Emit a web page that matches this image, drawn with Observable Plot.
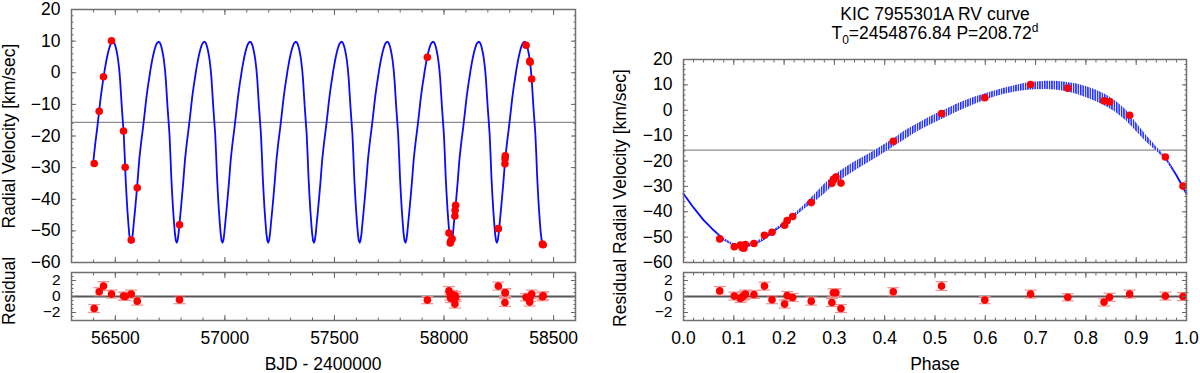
<!DOCTYPE html>
<html>
<head>
<meta charset="utf-8">
<script src="https://cdn.jsdelivr.net/npm/d3@7"></script>
<script src="https://cdn.jsdelivr.net/npm/@observablehq/plot@0.6"></script>
<style>
  body { margin: 0; background: #fff; }
  #chart { position: relative; width: 1200px; height: 373px; overflow: hidden; background: #fff;
           font-family: "Liberation Sans", Arial, Helvetica, sans-serif; color: #000; }
  .lbl { position: absolute; white-space: nowrap; font-size: 17.5px; line-height: 1; }
  .rot { transform: translate(-50%, -50%) rotate(-90deg); }
  .ctr { transform: translate(-50%, 0); text-align: center; }
  .title { line-height: 19.6px; }
  .sub { position: relative; top: 5px; font-size: 12px; line-height: 12px; }
  .sup { position: relative; top: -7px; font-size: 12px; line-height: 12px; }
</style>
</head>
<body>
<div id="chart"></div>
<script>
// ---------- data ----------
const periodDays = 208.72;
const gammaRV = -15.7;

// observations (BJD - 2400000, orbital phase, RV km/s, residual km/s, error km/s)
const obsBJD = [56403.6, 56426.5, 56446.0, 56482.6, 56537.4, 56545.1, 56572.6, 56600.0, 56793.0,
                57924.0, 58022.7, 58028.7, 58031.2, 58036.9, 58049.6, 58050.6, 58052.9, 58248.0,
                58277.9, 58278.6, 58279.6, 58374.5, 58391.0, 58393.0, 58400.0, 58449.1, 58452.5];
const obsPhase = [0.313, 0.417, 0.513, 0.690, 0.958, 0.993, 0.123, 0.254, 0.176,
                  0.599, 0.072, 0.101, 0.113, 0.140, 0.201, 0.206, 0.217, 0.161,
                  0.295, 0.298, 0.303, 0.764, 0.836, 0.847, 0.887, 0.117, 0.120];
const obsRV = [-28.7, -12.2, -1.3, 10.1, -18.4, -29.9, -52.9, -36.4, -48.1,
               4.9, -50.7, -53.8, -53.1, -52.5, -45.3, -43.5, -41.9, -49.3,
               -28.8, -27.2, -26.3, 8.7, 3.7, 3.3, -2.0, -54.2, -54.4];
const obsResidual = [-1.5, 0.6, 1.3, 0.3, 0.05, 0.0, 0.3, -0.58, -0.4,
                     -0.45, 0.7, 0.05, -0.25, 0.25, -0.95, 0.13, -0.12, 1.3,
                     -0.75, 0.46, 0.46, -0.1, -0.7, -0.1, 0.3, -0.04, 0.1];
const obsError = [0.5, 0.5, 0.55, 0.5, 0.5, 0.5, 0.5, 0.5, 0.5,
                  0.45, 0.55, 0.5, 0.5, 0.5, 0.5, 0.5, 0.5, 0.5,
                  0.5, 0.5, 0.5, 0.45, 0.5, 0.5, 0.5, 0.5, 0.5];

// orbital model curve read along phase, with half-width of the cycle-to-cycle band
const modelPhase = [0, 0.02, 0.04, 0.06, 0.08, 0.10, 0.12, 0.14, 0.16, 0.18, 0.20, 0.22, 0.24, 0.26, 0.28,
                    0.30, 0.32, 0.34, 0.36, 0.38, 0.40, 0.42, 0.44, 0.46, 0.48, 0.50, 0.52, 0.54, 0.56, 0.58,
                    0.60, 0.62, 0.64, 0.66, 0.68, 0.70, 0.72, 0.74, 0.76, 0.78, 0.80, 0.82, 0.84, 0.86, 0.88,
                    0.90, 0.92, 0.94, 0.96, 0.98, 1.00];
const modelRV = [-32.9, -38.4, -43.3, -47.3, -50.9, -53.1, -53.7, -52.9, -50.7, -47.6, -44.6, -41.5, -38.2, -34.9, -31.2,
                 -27.5, -24.8, -22.2, -19.9, -17.6, -15.1, -12.6, -9.9, -7.5, -5.3, -3.3, -1.5, 0.5, 2.2, 3.8,
                 5.2, 6.5, 7.6, 8.5, 9.2, 9.6, 9.8, 9.7, 9.2, 8.4, 7.2, 5.7, 3.8, 1.3, -2.0,
                 -6.6, -11.2, -15.2, -19.3, -25.6, -32.9];
const bandHalf = [0, 0, 0, 0, 0.2, 0.6, 0.7, 0.6, 0.45, 0.4, 0.4, 0.5, 0.8, 1.5, 1.9,
                  1.9, 1.8, 1.8, 1.7, 1.6, 1.6, 1.6, 1.7, 1.6, 1.6, 1.6, 1.6, 1.6, 1.5, 1.4,
                  1.3, 1.2, 1.2, 1.3, 1.4, 1.5, 1.6, 1.7, 1.8, 2.0, 2.2, 2.3, 2.3, 2.2, 2.1,
                  1.7, 1.3, 0.9, 0.4, 0, 0];

// phase-zero epochs (BJD - 2400000) of the cycles spanned by the time-series panel
const cycleEpochs = [56337.88, 56546.60, 56755.32, 56964.04, 57172.76, 57381.48,
                     57590.20, 57798.92, 58007.64, 58216.36, 58425.08];

// tick labels
const bjdTicks = [56500, 57000, 57500, 58000, 58500];
const phaseTicks = [0, 0.1, 0.2, 0.3, 0.4, 0.5, 0.6, 0.7, 0.8, 0.9, 1.0];
const rvTicks = [-60, -50, -40, -30, -20, -10, 0, 10, 20];
const resTicks = [-2, 0, 2];

// ---------- tables ----------
const obs = obsBJD.map((bjd, i) => ({bjd, phase: obsPhase[i], rv: obsRV[i], res: obsResidual[i], err: obsError[i]}));
const modelRows = modelPhase.map((p, i) => ({phase: p, rv: modelRV[i], lo: modelRV[i] - bandHalf[i], hi: modelRV[i] + bandHalf[i]}));
const tStart = obsBJD[0] - 4, tEnd = obsBJD[obsBJD.length - 1];
const timeCurve = cycleEpochs.flatMap((ep) => modelRows.map((d) => ({bjd: ep + d.phase * periodDays, rv: d.rv})))
  .filter((d) => d.bjd >= tStart && d.bjd <= tEnd);

// minor tick positions
const bjdMinor = d3.range(56300, 58601, 100);
const phaseMinor = d3.range(0, 1.0001, 0.02);
const rvMinor = d3.range(-60, 20.001, 2);
const resMinor = d3.range(-3, 3.001, 0.5);

// ---------- styling ----------
const FONT = '"Liberation Sans", Arial, Helvetica, sans-serif';
const baseStyle = {fontFamily: FONT, fontSize: "17.5px", color: "#000", background: "transparent", overflow: "visible"};
const tickColor = "#666";
const frameColor = "#707070";
const curveBlue = "#0a0aff";
const dotRed = "#ff0000";
const errPink = "#f29090";

const capSymbol = {draw(ctx, size) { const r = Math.sqrt(size / Math.PI); ctx.moveTo(-r, 0); ctx.lineTo(r, 0); }};

function inwardAxes({xMajor, xMinor, yMajor, yMinor, xFormat, yFormat, yFontSize}) {
  const bare = {label: null, stroke: tickColor, fill: "none"};
  return [
    Plot.axisY(yMajor, {anchor: "left", tickSize: -5, tickPadding: 16, tickFormat: yFormat, label: null, stroke: tickColor, fontSize: yFontSize}),
    Plot.axisY(yMinor, {anchor: "left", tickSize: -2.5, ...bare}),
    Plot.axisY(yMajor, {anchor: "right", tickSize: -5, ...bare}),
    Plot.axisY(yMinor, {anchor: "right", tickSize: -2.5, ...bare}),
    xFormat
      ? Plot.axisX(xMajor, {anchor: "bottom", tickSize: -5, tickPadding: 16.5, tickFormat: xFormat, label: null, stroke: tickColor})
      : Plot.axisX(xMajor, {anchor: "bottom", tickSize: -5, ...bare}),
    Plot.axisX(xMinor, {anchor: "bottom", tickSize: -2.5, ...bare}),
    Plot.axisX(xMajor, {anchor: "top", tickSize: -5, ...bare}),
    Plot.axisX(xMinor, {anchor: "top", tickSize: -2.5, ...bare})
  ];
}

function residualMarks(xKey) {
  return [
    Plot.ruleY([0], {stroke: "#555", strokeWidth: 2}),
    Plot.ruleX(obs, {x: xKey, y1: (d) => d.res - d.err, y2: (d) => d.res + d.err, stroke: errPink, strokeWidth: 1.2}),
    Plot.dot(obs, {x: xKey, y: (d) => d.res + d.err, symbol: capSymbol, r: 6, fill: "none", stroke: errPink, strokeWidth: 1.2}),
    Plot.dot(obs, {x: xKey, y: (d) => d.res - d.err, symbol: capSymbol, r: 6, fill: "none", stroke: errPink, strokeWidth: 1.2}),
    Plot.dot(obs, {x: xKey, y: "res", r: 3.8, fill: dotRed})
  ];
}

const chart = document.getElementById("chart");
function place(el, left, top) {
  el.style.position = "absolute";
  el.style.left = left + "px";
  el.style.top = top + "px";
  chart.appendChild(el);
}
function label(html, left, top, cls) {
  const d = document.createElement("div");
  d.className = "lbl " + (cls || "");
  d.innerHTML = html;
  d.style.left = left + "px";
  d.style.top = top + "px";
  chart.appendChild(d);
}

const fmtBJD = d3.format("d");
const fmtPhase = d3.format(".1f");
const fmtInt = d3.format("d");

// ---------- left: RV vs time ----------
const leftTop = Plot.plot({
  width: 600, height: 265,
  marginLeft: 71, marginRight: 25, marginTop: 9, marginBottom: 3,
  x: {domain: [56300, 58600], axis: null},
  y: {domain: [-60, 20], axis: null},
  style: baseStyle,
  marks: [
    Plot.ruleY([gammaRV], {stroke: "#8c8c8c", strokeWidth: 1.2}),
    Plot.line(timeCurve, {x: "bjd", y: "rv", stroke: curveBlue, strokeWidth: 1.8}),
    Plot.dot(obs, {x: "bjd", y: "rv", r: 3.8, fill: dotRed}),
    ...inwardAxes({xMajor: bjdTicks, xMinor: bjdMinor, yMajor: rvTicks, yMinor: rvMinor, xFormat: null, yFormat: fmtInt}),
    Plot.frame({stroke: frameColor, strokeWidth: 1.5})
  ]
});
place(leftTop, 0, 0);

const leftRes = Plot.plot({
  width: 600, height: 111,
  marginLeft: 71, marginRight: 25, marginTop: 10, marginBottom: 53,
  x: {domain: [56300, 58600], axis: null},
  y: {domain: [-3, 3], axis: null},
  style: baseStyle,
  marks: [
    ...residualMarks("bjd"),
    ...inwardAxes({xMajor: bjdTicks, xMinor: bjdMinor, yMajor: resTicks, yMinor: resMinor, xFormat: fmtBJD, yFormat: fmtInt, yFontSize: 15.5}),
    Plot.frame({stroke: frameColor, strokeWidth: 1.5})
  ]
});
place(leftRes, 0, 262);

// ---------- right: RV vs phase ----------
const rightTop = Plot.plot({
  width: 600, height: 265,
  marginLeft: 83, marginRight: 14, marginTop: 59, marginBottom: 3,
  x: {domain: [0, 1], axis: null},
  y: {domain: [-60, 20], axis: null},
  style: baseStyle,
  marks: [
    Plot.ruleY([gammaRV], {stroke: "#8c8c8c", strokeWidth: 1.2}),
    Plot.line(modelRows, {x: "phase", y: "rv", stroke: curveBlue, strokeWidth: 1.8}),
    Plot.areaY(modelRows, {x: "phase", y1: "lo", y2: "hi", fill: "url(#bandHatch)"}),
    Plot.dot(obs, {x: "phase", y: "rv", r: 3.8, fill: dotRed}),
    ...inwardAxes({xMajor: phaseTicks, xMinor: phaseMinor, yMajor: rvTicks, yMinor: rvMinor, xFormat: null, yFormat: fmtInt}),
    Plot.frame({stroke: frameColor, strokeWidth: 1.5})
  ]
});
{
  const defs = d3.select(rightTop).insert("defs", ":first-child");
  const pat = defs.append("pattern")
    .attr("id", "bandHatch").attr("patternUnits", "userSpaceOnUse")
    .attr("width", 2.4).attr("height", 4);
  pat.append("rect").attr("width", 2.4).attr("height", 4).attr("fill", "#ffffff");
  pat.append("rect").attr("width", 1.5).attr("height", 4).attr("fill", "#1e2cf5");
}
place(rightTop, 600, 0);

const rightRes = Plot.plot({
  width: 600, height: 111,
  marginLeft: 83, marginRight: 14, marginTop: 10, marginBottom: 53,
  x: {domain: [0, 1], axis: null},
  y: {domain: [-3, 3], axis: null},
  style: baseStyle,
  marks: [
    ...residualMarks("phase"),
    ...inwardAxes({xMajor: phaseTicks, xMinor: phaseMinor, yMajor: resTicks, yMinor: resMinor, xFormat: fmtPhase, yFormat: fmtInt, yFontSize: 15.5}),
    Plot.frame({stroke: frameColor, strokeWidth: 1.5})
  ]
});
place(rightRes, 600, 262);

// ---------- text ----------
label("Radial Velocity [km/sec]", 10, 136, "rot");
label("Residual", 10, 291, "rot");
label("BJD - 2400000", 323, 356, "ctr");
label("Residual Radial Velocity [km/sec]", 621, 198, "rot");
label("Phase", 935, 356, "ctr");
label('KIC 7955301A RV curve<br>T<span class="sub">0</span>=2454876.84 P=208.72<span class="sup">d</span>', 935, 4.5, "ctr title");
</script>
</body>
</html>
